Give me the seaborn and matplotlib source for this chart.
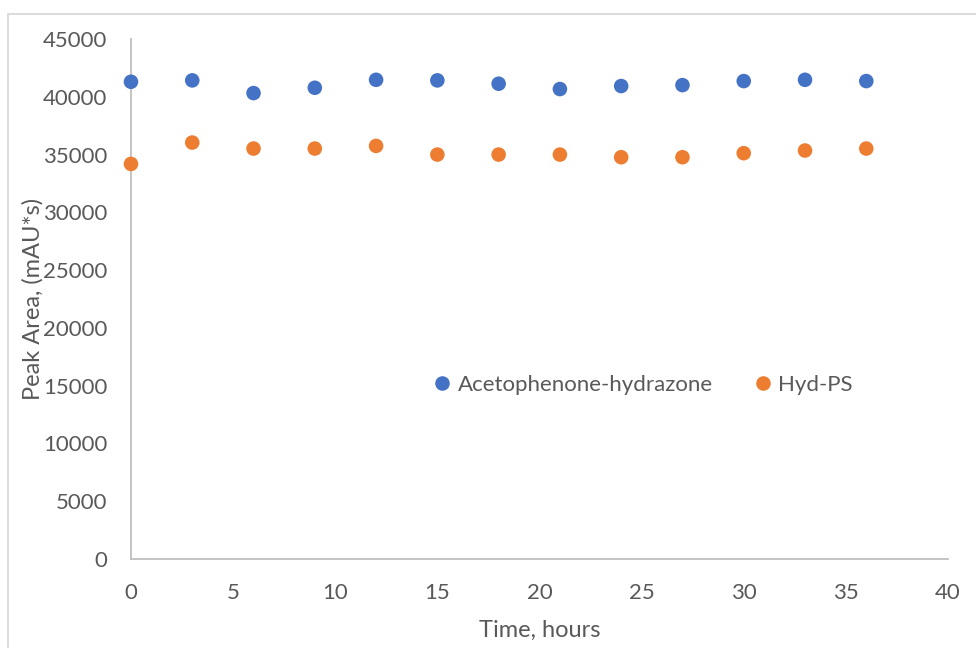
import matplotlib
matplotlib.use("Agg")
import matplotlib.pyplot as plt
import seaborn as sns
import pandas as pd
from matplotlib.patches import Rectangle

hours = [0, 3, 6, 9, 12, 15, 18, 21, 24, 27, 30, 33, 36]
acetophenone_hydrazone = [41300, 41420, 40320, 40780, 41470, 41420, 41130,
                          40670, 40930, 41010, 41360, 41470, 41360]
hyd_ps = [34190, 36040, 35520, 35520, 35750, 35000, 35000,
          35000, 34770, 34770, 35120, 35350, 35520]
series_names = ["Acetophenone-hydrazone", "Hyd-PS"]
x_ticks = [0, 5, 10, 15, 20, 25, 30, 35, 40]
y_ticks = [0, 5000, 10000, 15000, 20000, 25000, 30000, 35000, 40000, 45000]

df = pd.concat([
    pd.DataFrame({"Time": hours, "Area": acetophenone_hydrazone, "Series": series_names[0]}),
    pd.DataFrame({"Time": hours, "Area": hyd_ps, "Series": series_names[1]}),
])

sns.set_theme(style="white")
plt.rcParams["font.family"] = ["Lato", "DejaVu Sans"]
text_color = "#595959"
axis_color = "#BFBFBF"

fig = plt.figure(figsize=(9.76, 6.48), dpi=100)
ax = fig.add_axes([0.1342, 0.1373, 0.8371, 0.8025])

# outer chart frame
fig.patches.append(Rectangle((8 / 976, -0.1), 1.2, (648 - 14) / 648 + 0.1,
                             transform=fig.transFigure, fill=False,
                             edgecolor="#D9D9D9", linewidth=1.3))

sns.scatterplot(data=df, x="Time", y="Area", hue="Series",
                palette=["#4472C4", "#ED7D31"], s=110, edgecolor="none",
                ax=ax, clip_on=False, zorder=3)

ax.set_xlim(0, 40)
ax.set_ylim(0, 45000)
ax.set_xticks(x_ticks)
ax.set_yticks(y_ticks)
ax.set_xticklabels([str(v) for v in x_ticks])
ax.set_yticklabels([str(v) for v in y_ticks])
ax.tick_params(axis="both", length=0, labelsize=16, colors=text_color)
ax.tick_params(axis="y", pad=17)
ax.tick_params(axis="x", pad=17)

for side in ["top", "right"]:
    ax.spines[side].set_visible(False)
for side in ["left", "bottom"]:
    ax.spines[side].set_color(axis_color)
    ax.spines[side].set_linewidth(1.3)
ax.grid(False)

ax.set_xlabel("Time, hours", fontsize=17, color=text_color)
ax.set_ylabel("Peak Area, (mAU*s)", fontsize=17, color=text_color)
ax.xaxis.set_label_coords(0.5006, -0.1175)
ax.yaxis.set_label_coords(-0.107, 0.5)

leg = ax.legend(loc="center", bbox_to_anchor=(0.626, 0.335), ncol=2, frameon=False,
                fontsize=16, handlelength=0.9, handletextpad=0.25,
                columnspacing=1.8, markerscale=1.0)
for t in leg.get_texts():
    t.set_color(text_color)

fig.savefig("out.png", dpi=100)
